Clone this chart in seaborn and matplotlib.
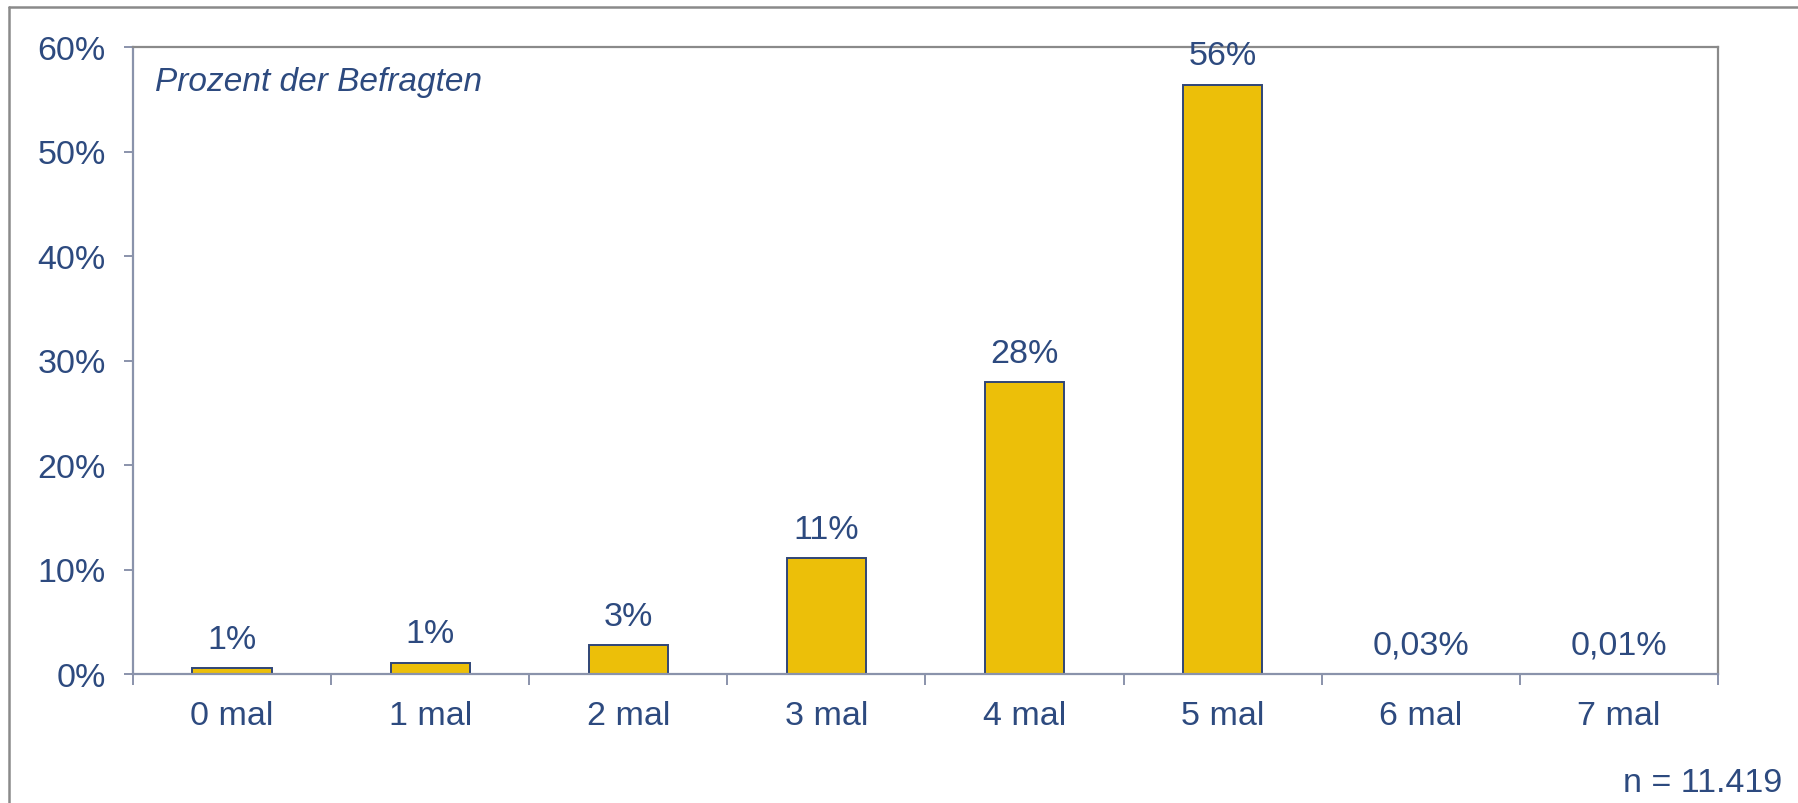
import matplotlib
matplotlib.use("Agg")
import matplotlib.pyplot as plt
import matplotlib.ticker as mticker
from matplotlib.lines import Line2D
import seaborn as sns
import pandas as pd
import numpy as np

categories = ["0 mal", "1 mal", "2 mal", "3 mal", "4 mal", "5 mal", "6 mal", "7 mal"]
values = [0.55, 1.1, 2.75, 11.1, 27.9, 56.4, 0.03, 0.01]
value_labels = ["1%", "1%", "3%", "11%", "28%", "56%", "0,03%", "0,01%"]
y_ticks = [0, 10, 20, 30, 40, 50, 60]
subtitle = "Prozent der Befragten"
note = "n = 11.419"

TEXT = "#2d4a7f"
BAR = "#ecbf09"
EDGE = "#2f4577"
AXIS = "#8a93ab"
FRAME = "#8a8a8a"

sns.set_theme(style="white")
plt.rcParams["font.family"] = ["Liberation Sans", "DejaVu Sans"]

df = pd.DataFrame({"cat": categories, "val": values})

fig = plt.figure(figsize=(17.98, 8.04), dpi=100)
ax = fig.add_axes([133 / 1798, 1 - 675 / 804, (1718 - 133) / 1798, (675 - 48) / 804])

sns.barplot(data=df, x="cat", y="val", ax=ax, color=BAR, width=0.4,
            edgecolor=EDGE, linewidth=1.4, saturation=1)

ax.set_xlim(-0.5, len(categories) - 0.5)
ax.set_ylim(0, 60)
ax.set_yticks(y_ticks)
ax.yaxis.set_major_formatter(mticker.FuncFormatter(lambda v, p: f"{v:.0f}%"))
ax.set_xlabel("")
ax.set_ylabel("")

# x: labels at centres without ticks, tick marks at boundaries
ax.set_xticks(range(len(categories)))
ax.set_xticklabels(categories)
ax.set_xticks(np.arange(-0.5, len(categories), 1.0), minor=True)
ax.tick_params(axis="x", which="major", length=0, pad=18.5, labelsize=24.5, labelcolor=TEXT)
ax.tick_params(axis="x", which="minor", bottom=True, length=8, width=1.4, color=AXIS, direction="out")
ax.tick_params(axis="y", which="major", left=True, length=6.5, width=1.4, color=AXIS,
               pad=13, labelsize=24.5, labelcolor=TEXT, direction="out")

for side in ["left", "bottom"]:
    ax.spines[side].set_color(AXIS)
    ax.spines[side].set_linewidth(1.6)
for side in ["top", "right"]:
    ax.spines[side].set_color(FRAME)
    ax.spines[side].set_linewidth(1.6)
    ax.spines[side].set_visible(True)

for i, (v, lab) in enumerate(zip(values, value_labels)):
    ax.annotate(lab, xy=(i, v), xytext=(0, 14.5), textcoords="offset points",
                ha="center", va="baseline", fontsize=24.5, color=TEXT)

fig.text(155 / 1798, 1 - 90.7 / 804, subtitle,
         fontsize=24, style="italic", color=TEXT, ha="left", va="baseline")
fig.text(1782 / 1798, 1 - 791.7 / 804, note, fontsize=24.5, color=TEXT, ha="right", va="baseline")

# outer frame (left and top edges visible)
fig.add_artist(Line2D([9.3 / 1798, 9.3 / 1798], [1 - 8 / 804, -0.05], transform=fig.transFigure,
                      color=FRAME, linewidth=1.8))
fig.add_artist(Line2D([9.3 / 1798, 1.05], [1 - 8 / 804, 1 - 8 / 804], transform=fig.transFigure,
                      color=FRAME, linewidth=1.8))

fig.savefig("out.png", dpi=100)
